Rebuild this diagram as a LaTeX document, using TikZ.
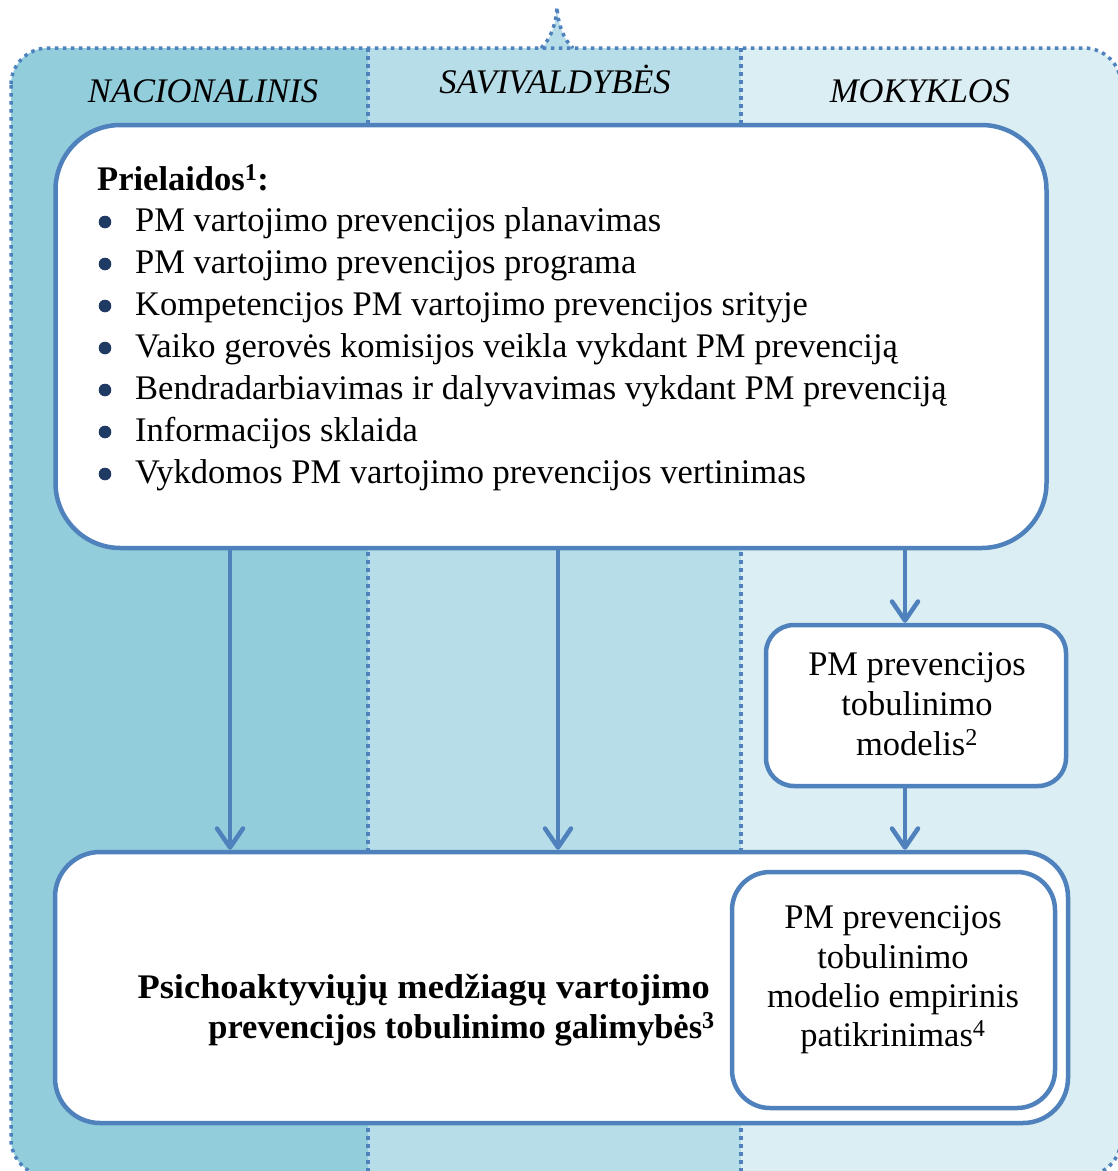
\documentclass[tikz,border=0pt]{standalone}
\usepackage{fontspec}
\setmainfont{Liberation Serif}
\usetikzlibrary{arrows.meta}
\definecolor{colNat}{HTML}{92CDDC}
\definecolor{colMun}{HTML}{B7DEE8}
\definecolor{colSch}{HTML}{DAEEF3}
\definecolor{edge}{HTML}{4F81BD}
\definecolor{dotnavy}{HTML}{1F3A63}
\begin{document}
\begin{tikzpicture}[x=1pt,y=-1pt,
  frame/.style={draw=edge, line width=4.5pt, fill=white, inner sep=0pt},
  txt/.style={inner sep=0pt, text=black, font=\fontsize{34.5}{41}\selectfont},
  boldtxt/.style={inner sep=0pt, text=black, font=\fontsize{34.5}{41}\selectfont\bfseries},
  hdr/.style={inner sep=0pt, text=black, font=\fontsize{34.5}{41}\selectfont\itshape},
  flow/.style={draw=edge, line width=4.5pt, -{Straight Barb[length=19pt,width=26pt,round]}},
  dots/.style={draw=edge, line width=3.5pt, dash pattern=on 3.5pt off 4.5pt},
  bul/.style={fill=dotnavy}]
\useasboundingbox (0,0) rectangle (1118,1171);
\clip (0,0) rectangle (1118,1171);

% column backgrounds inside the dotted frame
\begin{scope}
  \clip[rounded corners=37pt] (11,48) rectangle (1121,1176);
  \fill[colNat] (0,0) rectangle (368,1200);
  \fill[colMun] (368,0) rectangle (741,1200);
  \fill[colSch] (741,0) rectangle (1130,1200);
\end{scope}
% pointer on top of the frame
\fill[colMun] (541,49) .. controls (550,40) and (556,25) .. (557,7)
  .. controls (558,25) and (564,40) .. (573,49) -- cycle;
\draw[dots] (541,48) .. controls (550,40) and (556,25) .. (557,7)
  .. controls (558,25) and (564,40) .. (573,48);
% dotted frame and column dividers
\draw[dots, rounded corners=37pt] (11,48) rectangle (1121,1176);
\draw[dots] (368,48) -- (368,1174);
\draw[dots] (741,48) -- (741,1174);

% column headers
\node[hdr, anchor=base] (hNat) at (203,102) {NACIONALINIS};
\node[hdr, anchor=base] (hMun) at (555,93) {SAVIVALDYBĖS};
\node[hdr, anchor=base] (hSch) at (920,102) {MOKYKLOS};

% boxes
\node[frame, rounded corners=65pt, minimum width=991pt, minimum height=423pt] (prem) at (551,336.5) {};
\node[frame, rounded corners=28pt, minimum width=300pt, minimum height=161pt] (model) at (916,705.5) {};
\node[frame, rounded corners=45pt, minimum width=1013pt, minimum height=271pt] (galim) at (561.5,987.5) {};
\node[frame, rounded corners=38pt, minimum width=323pt, minimum height=236pt] (check) at (893.5,990) {};

% connectors
\coordinate (xa) at (230,0);
\coordinate (xb) at (558,0);
\coordinate (xc) at (905,0);
\draw[flow] (prem.south -| xa) -- (galim.north -| xa);
\draw[flow] (prem.south -| xb) -- (galim.north -| xb);
\draw[flow] (prem.south -| xc) -- (model.north -| xc);
\draw[flow] (model.south -| xc) -- (galim.north -| xc);

% premises list
\node[boldtxt, anchor=base west] (pTitle) at (97,190) {Prielaidos\textsuperscript{1}:};
\foreach \y/\t [count=\i] in {
  231/PM vartojimo prevencijos planavimas,
  273/PM vartojimo prevencijos programa,
  315/Kompetencijos PM vartojimo prevencijos srityje,
  357/Vaiko gerovės komisijos veikla vykdant PM prevenciją,
  399/Bendradarbiavimas ir dalyvavimas vykdant PM prevenciją,
  441/Informacijos sklaida,
  483/Vykdomos PM vartojimo prevencijos vertinimas} {
  \fill[bul] (105,\y-9) circle (6.3pt);
  \node[txt, anchor=base west] (item\i) at (135,\y) {\t};
}

% model box text
\node[txt, anchor=base] (m1) at (917,675) {PM prevencijos};
\node[txt, anchor=base] (m2) at (917,715) {tobulinimo};
\node[txt, anchor=base] (m3) at (917,755) {modelis\textsuperscript{2}};

% bottom box text
\node[boldtxt, anchor=base east] (g1) at (710,998) {\scalebox{1.055}[1]{Psichoaktyviųjų medžiagų vartojimo}};
\node[boldtxt, anchor=base east] (g2) at (715,1038) {prevencijos tobulinimo galimybės\textsuperscript{3}};

% inner box text
\node[txt, anchor=base] (c1) at (893,928) {PM prevencijos};
\node[txt, anchor=base] (c2) at (893,968) {tobulinimo};
\node[txt, anchor=base] (c3) at (893,1007) {modelio empirinis};
\node[txt, anchor=base] (c4) at (893,1046) {patikrinimas\textsuperscript{4}};
\end{tikzpicture}
\end{document}
